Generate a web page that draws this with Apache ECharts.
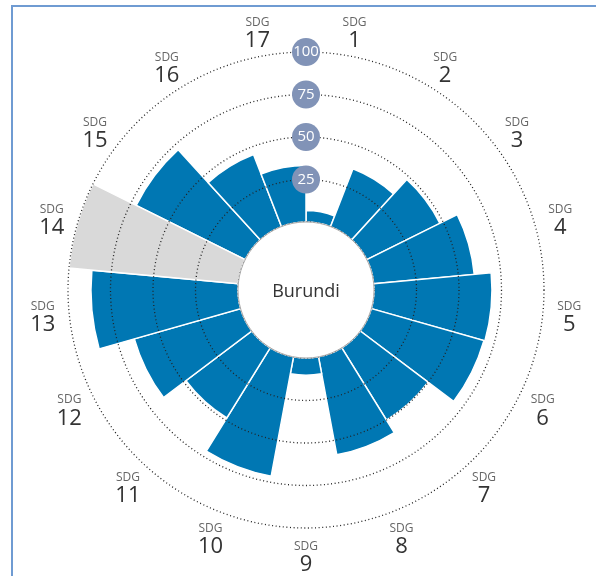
<!DOCTYPE html>
<html>
<head>
<meta charset="utf-8">
<script src="https://cdn.jsdelivr.net/npm/echarts@6/dist/echarts.min.js"></script>
<style>html,body{margin:0;padding:0;background:#fff;}#c{width:596px;height:576px;}</style>
</head>
<body>
<div id="c"></div>
<script>
const categories = ['1','2','3','4','5','6','7','8','9','10','11','12','13','14','15','16','17'];
const scores = [6.7, 36.5, 48, 59.4, 69.4, 68.8, 50, 58.6, 10.1, 71.4, 48.5, 65, 86.5, null, 71.6, 45.5, 33.2];
const noData = [null, null, null, null, null, null, null, null, null, null, null, null, null, 100, null, null, null];
const ringTicks = [25, 50, 75, 100];
const countryName = 'Burundi';

const chart = echarts.init(document.getElementById('c'), null, {renderer: 'canvas'});
const CX = 306, CY = 290, R0 = 68, R1 = 238;
const LABEL_R = 115.5;   // label ring, in radius-axis units (beyond the 100 ring)
const LABEL_DY = 4;

chart.setOption({
  animation: false,
  polar: { center: [CX, CY], radius: [R0, R1] },
  angleAxis: {
    type: 'category',
    data: categories,
    startAngle: 90,
    clockwise: true,
    axisLine: { show: false },
    axisTick: { show: false },
    splitLine: { show: false },
    axisLabel: { show: false }
  },
  radiusAxis: {
    type: 'value',
    min: 0, max: 100, interval: 25,
    z: 10,
    axisLine: { show: false },
    axisTick: { show: false },
    splitLine: { show: true, lineStyle: { color: '#222', width: 1.3, type: [1, 2.6] } },
    axisLabel: {
      showMinLabel: false,
      margin: 0,
      align: 'center',
      verticalAlign: 'middle',
      formatter: v => ringTicks.includes(v) ? String(v) : '',
      color: '#fff',
      fontFamily: 'Liberation Sans Narrow, Open Sans',
      fontSize: 15,
      backgroundColor: '#8193b7',
      width: 28, height: 28, lineHeight: 28,
      borderRadius: 14
    }
  },
  series: [
    {
      type: 'bar', coordinateSystem: 'polar', stack: 's',
      data: scores,
      barCategoryGap: '0%',
      itemStyle: { color: '#0077b3', borderColor: '#fff', borderWidth: 1.5 },
      z: 2
    },
    {
      type: 'bar', coordinateSystem: 'polar', stack: 's',
      data: noData,
      barCategoryGap: '0%',
      itemStyle: { color: '#d9d9d9', borderColor: '#fff', borderWidth: 1.5 },
      z: 2
    },
    {
      type: 'custom', coordinateSystem: 'polar', silent: true, clip: false,
      data: categories.map((c, i) => [LABEL_R, i]),
      renderItem: (params, api) => {
        const p = api.coord([api.value(0), api.value(1)]);
        return {
          type: 'text',
          x: p[0], y: p[1] + LABEL_DY,
          style: {
            text: '{a|SDG}\n{b|' + categories[params.dataIndex] + '}',
            align: 'center', verticalAlign: 'middle',
            rich: {
              a: { fontFamily: 'Open Sans', fontSize: 12, fill: '#666', lineHeight: 13, align: 'center' },
              b: { fontFamily: 'Open Sans', fontSize: 22, fill: '#333', lineHeight: 24, align: 'center' }
            }
          }
        };
      }
    }
  ],
  graphic: [
    { type: 'circle', shape: { cx: CX, cy: CY, r: R0 }, style: { fill: '#fff', stroke: '#aaa', lineWidth: 1 }, z: 20 },
    { type: 'text', x: CX, y: CY + 2, style: { text: countryName, fontFamily: 'Open Sans', fontSize: 18, fill: '#333', align: 'center', verticalAlign: 'middle' }, z: 21 },
    { type: 'polyline', shape: { points: [[12, 576], [12, 6], [596, 6]] }, style: { stroke: '#6f9bd2', lineWidth: 2, fill: null }, z: 30 }
  ]
});
</script>
</body>
</html>
